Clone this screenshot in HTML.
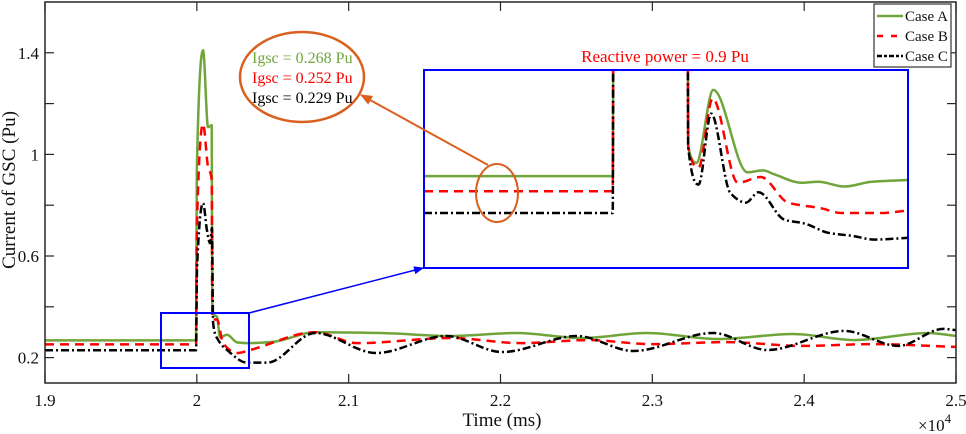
<!DOCTYPE html>
<html><head><meta charset="utf-8"><style>
html,body{margin:0;padding:0;background:#fff;font-family:"Liberation Serif","Times New Roman",serif;}
body{position:relative;width:966px;height:434px;overflow:hidden;}
svg{display:block;}
svg text{font-family:"Liberation Serif","Times New Roman",serif;}
</style></head><body>
<svg id="chart" width="966" height="434" viewBox="0 0 966 434" xmlns="http://www.w3.org/2000/svg" style="font-family:'Liberation Serif',serif">
<defs>
<clipPath id="mainClip"><rect x="45" y="2" width="911" height="381"/></clipPath>
<clipPath id="insetClip"><rect x="425" y="71" width="482" height="196"/></clipPath>
<marker id="arrBlue" markerWidth="10" markerHeight="8" refX="9" refY="4" orient="auto" markerUnits="userSpaceOnUse"><path d="M0,0 L10,4 L0,8 z" fill="#0000ff"/></marker>
<marker id="arrOrange" markerWidth="12" markerHeight="10" refX="11" refY="5" orient="auto" markerUnits="userSpaceOnUse"><path d="M0,0 L12,5 L0,10 z" fill="#d9601f"/></marker>
</defs>
<g id="plot"></g>
<g id="inset"></g>
<g id="axes"></g>
</svg>
<script>
// ---- data (time in ms, current in Pu) ----
const xTicks = [19000, 20000, 21000, 22000, 23000, 24000, 25000];
const xTickLabels = ["1.9", "2", "2.1", "2.2", "2.3", "2.4", "2.5"];
const yTicks = [0.2, 0.4, 0.6, 0.8, 1.0, 1.2, 1.4];
const yTickLabels = ["0.2", "", "0.6", "", "1", "", "1.4"];
const seriesNames = ["Case A", "Case B", "Case C"];

const caseA = [[19000,0.268],[19995,0.268],[20000,0.94],[20041,1.41],[20074,1.107],[20098,1.115],[20102,0.375],[20133,0.36],[20153,0.28],[20199,0.29],[20265,0.26],[20331,0.257],[20500,0.262],[20779,0.30],[21207,0.297],[21675,0.285],[22103,0.297],[22538,0.277],[22966,0.297],[23434,0.273],[23928,0.293],[24330,0.269],[24817,0.297],[25000,0.285]];
const caseB = [[19000,0.252],[19995,0.252],[20000,0.70],[20041,1.12],[20074,0.95],[20098,0.90],[20102,0.35],[20133,0.35],[20173,0.257],[20265,0.218],[20351,0.23],[20779,0.30],[21055,0.257],[21675,0.277],[22136,0.257],[22571,0.269],[22999,0.253],[23493,0.261],[23987,0.246],[24448,0.253],[25000,0.242]];
const caseC = [[19000,0.229],[19995,0.229],[20001,0.545],[20041,0.808],[20067,0.70],[20087,0.65],[20100,0.71],[20107,0.336],[20140,0.27],[20199,0.23],[20331,0.18],[20463,0.18],[20779,0.297],[21181,0.218],[21642,0.285],[22011,0.222],[22505,0.285],[22874,0.226],[23401,0.297],[23757,0.23],[24264,0.305],[24620,0.246],[24916,0.313],[25000,0.308]];

// inset (zoomed view around the fault)
const insetA = [[19743,0.268],[19998,0.268],[20000,0.9],[20098,0.9],[20100,0.299],[20111,0.282],[20134,0.359],[20180,0.272],[20201,0.274],[20216,0.270],[20253,0.261],[20276,0.262],[20311,0.257],[20348,0.262],[20400,0.264]];
const insetB = [[19743,0.252],[19998,0.252],[20000,0.9],[20098,0.9],[20100,0.299],[20114,0.277],[20133,0.350],[20167,0.261],[20198,0.267],[20235,0.240],[20280,0.234],[20307,0.229],[20358,0.229],[20400,0.232]];
const insetC = [[19743,0.229],[19998,0.229],[20000,0.9],[20098,0.9],[20100,0.299],[20114,0.259],[20131,0.334],[20157,0.250],[20178,0.240],[20195,0.251],[20230,0.222],[20257,0.218],[20290,0.208],[20321,0.205],[20352,0.201],[20400,0.203]];

// ---- scales ----
const X0=45, X1=956, Y0=383, Y1=2, XMIN=19000, XMAX=25000, YMIN=0.1, YMAX=1.6;
function xs(t){return X0+(t-XMIN)/(XMAX-XMIN)*(X1-X0);}
function ys(v){return Y0-(v-YMIN)/(YMAX-YMIN)*(Y0-Y1);}
const IX0=424, IX1=908, IY0=268, IY1=70, IXMIN=19743, IXMAX=20397, IYMIN=0.171, IYMAX=0.380;
function ixs(t){return IX0+(t-IXMIN)/(IXMAX-IXMIN)*(IX1-IX0);}
function iys(v){return IY0-(v-IYMIN)/(IYMAX-IYMIN)*(IY0-IY1);}

const NS="http://www.w3.org/2000/svg";
function mk(tag, attrs, parent){const e=document.createElementNS(NS,tag);for(const k in attrs)e.setAttribute(k,attrs[k]);parent.appendChild(e);return e;}

function monoPath(pts){
  const n=pts.length; if(n<2) return "";
  const dx=[],dy=[],m=[];
  for(let i=0;i<n-1;i++){dx.push(pts[i+1][0]-pts[i][0]);dy.push(pts[i+1][1]-pts[i][1]);m.push(dy[i]/dx[i]);}
  const t=[m[0]];
  for(let i=1;i<n-1;i++){ if(m[i-1]*m[i]<=0) t.push(0); else {const w1=2*dx[i]+dx[i-1],w2=dx[i]+2*dx[i-1];t.push((w1+w2)/(w1/m[i-1]+w2/m[i]));}}
  t.push(m[n-2]);
  let d="M"+pts[0][0].toFixed(2)+","+pts[0][1].toFixed(2);
  for(let i=0;i<n-1;i++){
    const h=dx[i];
    d+=" C"+(pts[i][0]+h/3).toFixed(2)+","+(pts[i][1]+t[i]*h/3).toFixed(2)+" "+(pts[i+1][0]-h/3).toFixed(2)+","+(pts[i+1][1]-t[i+1]*h/3).toFixed(2)+" "+pts[i+1][0].toFixed(2)+","+pts[i+1][1].toFixed(2);
  }
  return d;
}

const styles=[{c:"#6fa53a",w:2.5,dash:""},{c:"#ff0000",w:2.5,dash:"9,6"},{c:"#000000",w:2.5,dash:"8,3,2,3"}];
const plot=document.getElementById("plot");
const mainG=mk("g",{"clip-path":"url(#mainClip)"},plot);


[caseA,caseB,caseC].forEach((s,i)=>{
  const p=mk("path",{d:monoPath(s.map(q=>[xs(q[0]),ys(q[1])])),fill:"none",stroke:styles[i].c,"stroke-width":styles[i].w,"stroke-dasharray":styles[i].dash,"stroke-linejoin":"round"},mainG);
  
  
});

const inset=document.getElementById("inset");
const iG=mk("g",{"clip-path":"url(#insetClip)"},inset);


[insetA,insetB,insetC].forEach((s,i)=>{
  const p=mk("path",{d:monoPath(s.map(q=>[ixs(q[0]),iys(q[1])])),fill:"none",stroke:styles[i].c,"stroke-width":2.5,"stroke-dasharray":styles[i].dash,"stroke-linejoin":"round"},iG);
  
  
});
const ib=mk("rect",{x:424,y:70,width:484,height:198,fill:"none",stroke:"#0000ff","stroke-width":2},inset);



const ax=document.getElementById("axes");
const frame=mk("rect",{x:X0,y:Y1,width:X1-X0,height:Y0-Y1,fill:"none",stroke:"#262626","stroke-width":1.5},ax);


xTicks.forEach((t,i)=>{
  const x=xs(t);
  mk("line",{x1:x,y1:Y0,x2:x,y2:Y0-9,stroke:"#262626","stroke-width":1.2},ax);
  mk("line",{x1:x,y1:Y1,x2:x,y2:Y1+9,stroke:"#262626","stroke-width":1.2},ax);
  const tx=mk("text",{x:x,y:406,"font-size":17,"text-anchor":"middle",fill:"#111"},ax);
  tx.textContent=xTickLabels[i];
  
  
});
yTicks.forEach((v,i)=>{
  const y=ys(v);
  mk("line",{x1:X0,y1:y,x2:X0+9,y2:y,stroke:"#262626","stroke-width":1.2},ax);
  mk("line",{x1:X1,y1:y,x2:X1-9,y2:y,stroke:"#262626","stroke-width":1.2},ax);
  if(yTickLabels[i]){
    const tx=mk("text",{x:39,y:y+6,"font-size":17,"text-anchor":"end",fill:"#111"},ax);
    tx.textContent=yTickLabels[i];
    
    
  }
});
</script>
<svg width="966" height="434" style="position:absolute;left:0;top:0;font-family:'Liberation Serif',serif" xmlns="http://www.w3.org/2000/svg">
<text x="502" y="426" font-size="19" text-anchor="middle" fill="#111">Time (ms)</text>
<text x="918" y="431" font-size="17" fill="#111">×10<tspan dy="-8" font-size="13">4</tspan></text>
<text transform="translate(15,190) rotate(-90)" font-size="19" text-anchor="middle" fill="#111">Current of GSC (Pu)</text>
<rect x="161" y="313" width="88" height="55" fill="none" stroke="#0000ff" stroke-width="2"/>
<line x1="249" y1="313" x2="423" y2="268" stroke="#0000ff" stroke-width="1.5" marker-end="url(#arrBlue)"/>
<text x="665" y="62" font-size="17" text-anchor="middle" fill="#ff0000">Reactive power = 0.9 Pu</text>
<ellipse cx="497" cy="193" rx="21" ry="29" fill="none" stroke="#d9601f" stroke-width="2"/>
<line x1="488" y1="165" x2="361" y2="95" stroke="#d9601f" stroke-width="2" marker-end="url(#arrOrange)"/>
<ellipse cx="302" cy="77" rx="62" ry="45" fill="#fff" stroke="#d9601f" stroke-width="2.5"/>
<text x="252" y="63" font-size="16" fill="#6fa53a">Igsc = 0.268 Pu</text>
<text x="252" y="83" font-size="16" fill="#ff0000">Igsc = 0.252 Pu</text>
<text x="252" y="103" font-size="16" fill="#000">Igsc = 0.229 Pu</text>
<g>
<rect x="874" y="4" width="77" height="63" fill="#fff" stroke="#333" stroke-width="1.2"/>
<line x1="877" y1="16" x2="903" y2="16" stroke="#6fa53a" stroke-width="2.5"/>
<line x1="877" y1="36" x2="903" y2="36" stroke="#ff0000" stroke-width="2.5" stroke-dasharray="6,8"/>
<line x1="877" y1="56" x2="903" y2="56" stroke="#000" stroke-width="2.5" stroke-dasharray="5,2,3,2"/>
<text x="905" y="21" font-size="15" fill="#111">Case A</text>
<text x="905" y="41" font-size="15" fill="#111">Case B</text>
<text x="905" y="61" font-size="15" fill="#111">Case C</text>
</g>
</svg>
</body></html>
